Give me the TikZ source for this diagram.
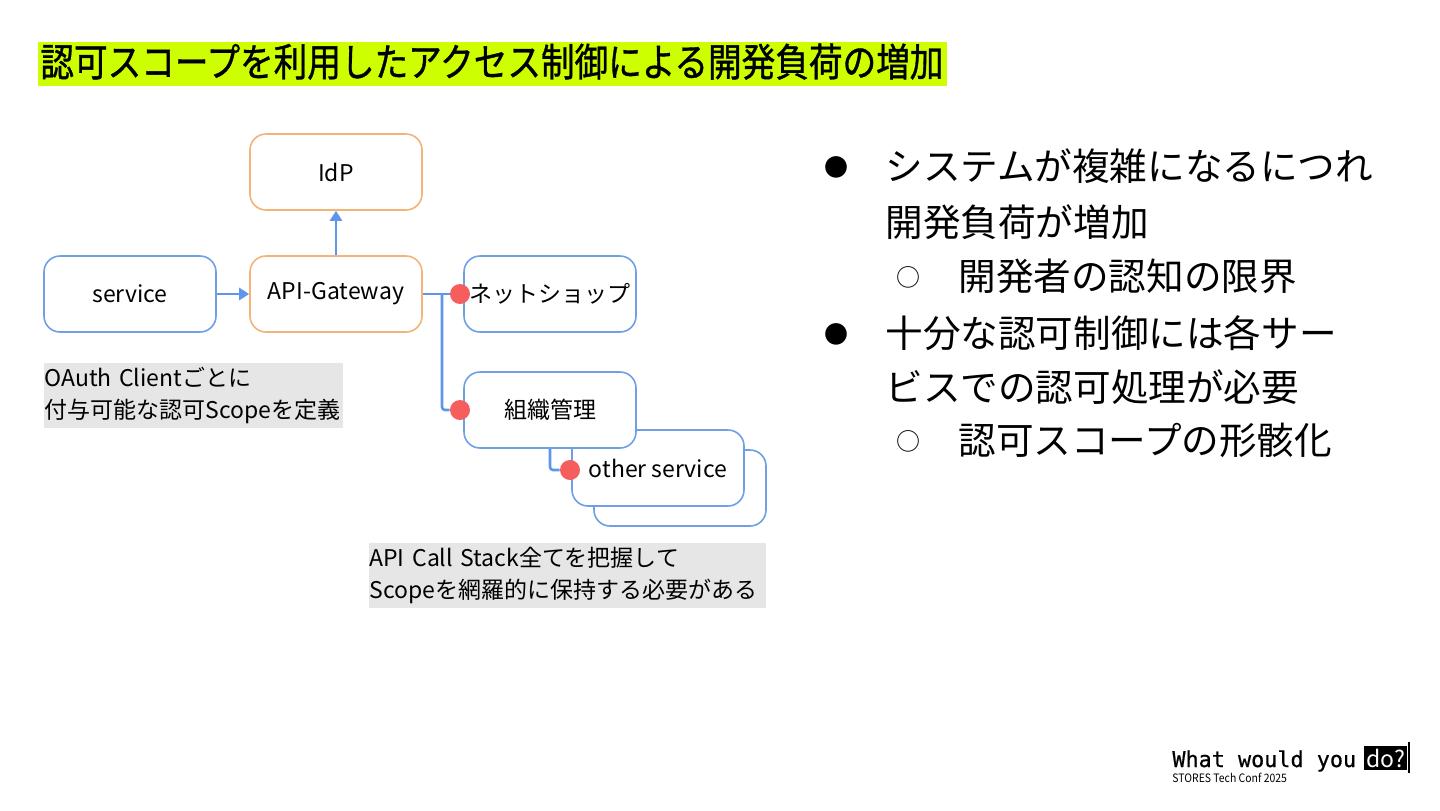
\documentclass[tikz,border=0pt]{standalone}
\usepackage{fontspec}
\setmainfont{Noto Sans CJK JP}
\newfontfamily\titlefont[FakeBold=1]{Noto Sans CJK JP}
\newfontfamily\monofont[FakeBold=0.6]{DejaVu Sans Mono}
\usetikzlibrary{arrows.meta}
\definecolor{boxblue}{RGB}{110,160,230}
\definecolor{linkblue}{RGB}{95,150,235}
\definecolor{gwora}{RGB}{242,180,120}
\definecolor{pinred}{RGB}{246,94,94}
\definecolor{notegray}{RGB}{230,230,230}
\definecolor{titlelime}{RGB}{206,255,0}

\begin{document}
\begin{tikzpicture}[x=0.5pt, y=-0.5pt,
    svcbox/.style={draw=boxblue, line width=0.8pt, rounded corners=8pt, fill=white,
      minimum width=86pt, minimum height=38pt, inner sep=0pt, font=\fontsize{11.5}{14}\selectfont},
    gwbox/.style={svcbox, draw=gwora},
    pin/.style={circle, fill=pinred, inner sep=0pt, minimum size=10pt},
    link/.style={draw=linkblue, line width=1.3pt, rounded corners=1.5pt},
    note/.style={fill=notegray, anchor=north west, align=left, inner xsep=0pt, inner ysep=0pt,
      font=\fontsize{11.5}{16}\selectfont},
    item/.style={anchor=west, inner sep=0pt, font=\fontsize{18.8}{22}\selectfont},
    bulletmark/.style={inner sep=0pt, font=\fontsize{12}{14}\selectfont}]
  \useasboundingbox[fill=white] (0,0) rectangle (1440,810);

  \node[fill=titlelime, anchor=north west, minimum width=454.5pt, minimum height=22pt,
    inner xsep=1pt, inner ysep=0pt, text width=452.5pt, text height=17pt, text depth=5pt,
    font=\titlefont\fontsize{20.5}{22}\selectfont] (title) at (38,42)
    {\scalebox{0.82}[0.95]{認可スコープを利用したアクセス制御による開発負荷の増加}};

  \node[gwbox] (idp) at (336,172) {IdP};
  \node[svcbox] (svc) at (130,294) {service};
  \node[gwbox] (gw) at (336,294) {API-Gateway};
  \node[svcbox] (shop) at (550,294) {ネットショップ};
  \node[svcbox] (other2) at (680,488) {};
  \node[svcbox] (other) at (658,468) {other service};
  \node[svcbox] (org) at (550,410) {組織管理};

  \node[pin] (p1) at (460,294) {};
  \node[pin] (p2) at (460,410) {};
  \node[pin] (p3) at (570,470) {};

  \coordinate (fork) at (442,294);

  \draw[link, -{Triangle[length=5pt, width=6pt]}] (svc) -- (gw);
  \draw[link, -{Triangle[length=5pt, width=6pt]}] (gw) -- (idp);
  \draw[link] (gw) -- (p1);
  \draw[link] (fork) |- (p2);
  \draw[link] (org) |- (p3);

  \node[note, text width=149.5pt, minimum height=32.5pt] (cnote) at (44,363)
    {OAuth Clientごとに\\付与可能な認可Scopeを定義};
  \node[note, text width=198.5pt, minimum height=32.5pt] (snote) at (369,543)
    {API Call Stack全てを把握して\\Scopeを網羅的に保持する必要がある};

  \node[bulletmark] (m1) at (836,167) {●};
  \node[item] (i1) at (885,166) {システムが複雑になるにつれ};
  \node[item] (i2) at (885,222) {開発負荷が増加};
  \node[bulletmark] (m2) at (908,277) {○};
  \node[item] (i3) at (958,276) {開発者の認知の限界};
  \node[bulletmark] (m3) at (836,334) {●};
  \node[item] (i4) at (885,333) {十分な認可制御には各サー};
  \node[item] (i5) at (885,387) {ビスでの認可処理が必要};
  \node[bulletmark] (m4) at (908,441) {○};
  \node[item] (i6) at (958,440) {認可スコープの形骸化};

  \node[anchor=base west, inner sep=0pt, font=\monofont\fontsize{10.9}{12}\selectfont] (tag) at (1172,767) {What would you};
  \node[anchor=base west, fill=black, text=white, inner xsep=1pt, inner ysep=1.5pt,
    font=\fontsize{11.5}{12}\selectfont] (do) at (1364,767) {do?};
  \coordinate (cur) at (1409,742);
  \draw[line width=0.6pt] (cur) -- ++(0,31);
  \node[anchor=north west, inner sep=0pt, font=\fontsize{5.8}{7}\selectfont] (conf) at (1172,773)
    {\scalebox{0.9}[1]{STORES Tech Conf 2025}};
\end{tikzpicture}
\end{document}
